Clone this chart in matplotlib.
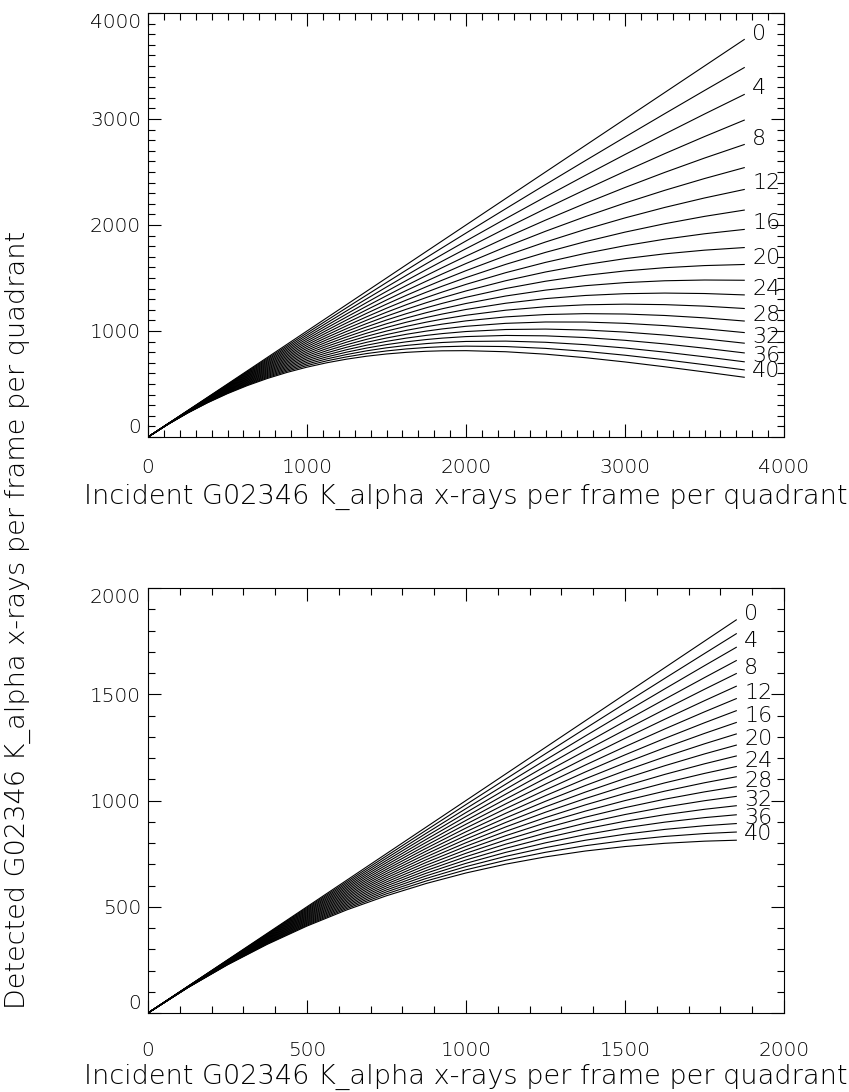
import matplotlib
matplotlib.use("Agg")
import matplotlib.pyplot as plt
from matplotlib.ticker import MultipleLocator

# incident rate grid (x-rays per frame per quadrant); the lower panel stops at 1850
incident = [0, 125, 250, 375, 500, 625, 750, 875, 1000, 1125, 1250, 1375, 1500,
            1625, 1750, 1850, 2000, 2250, 2500, 2750, 3000, 3250, 3500, 3750]
n_bottom = 16  # points up to and including 1850

# curve parameter, one curve per value; every other one gets a label
levels = [0, 2, 4, 6, 8, 10, 12, 14, 16, 18, 20, 22, 24, 26, 28, 30, 32, 34, 36, 38, 40]
labelled = [0, 4, 8, 12, 16, 20, 24, 28, 32, 36, 40]

# detected rate for each level, one row per level, columns follow `incident`
detected = [
    [0, 125.0, 250.0, 375.0, 500.0, 625.0, 750.0, 875.0, 1000.0, 1125.0, 1250.0, 1375.0, 1500.0,
     1625.0, 1750.0, 1850.0, 2000.0, 2250.0, 2500.0, 2750.0, 3000.0, 3250.0, 3500.0, 3750.0],
    [0, 124.7, 248.8, 372.3, 495.2, 617.5, 739.2, 860.3, 980.9, 1100.8, 1220.1, 1338.9, 1457.0,
     1574.6, 1691.6, 1784.8, 1923.8, 2153.7, 2381.4, 2606.6, 2829.6, 3050.3, 3268.7, 3484.9],
    [0, 124.4, 247.6, 369.6, 490.4, 610.1, 728.5, 845.8, 961.9, 1076.9, 1190.7, 1303.3, 1414.8,
     1525.2, 1634.4, 1720.9, 1849.4, 2060.0, 2266.0, 2467.7, 2665.1, 2858.1, 3046.8, 3231.2],
    [0, 124.1, 246.4, 366.9, 485.7, 602.7, 717.9, 831.4, 943.2, 1053.3, 1161.6, 1268.3, 1373.3,
     1476.6, 1578.3, 1658.4, 1776.7, 1968.6, 2154.2, 2333.4, 2506.4, 2673.4, 2834.3, 2989.3],
    [0, 123.8, 245.2, 364.3, 481.0, 595.3, 707.4, 817.2, 924.7, 1030.0, 1133.0, 1233.9, 1332.5,
     1429.0, 1523.4, 1597.3, 1705.8, 1879.8, 2045.8, 2203.7, 2353.9, 2496.4, 2631.5, 2759.2],
    [0, 123.5, 244.0, 361.6, 476.3, 588.1, 697.0, 803.1, 906.4, 1007.0, 1104.8, 1200.0, 1292.5,
     1382.4, 1469.7, 1537.7, 1636.6, 1793.6, 1940.9, 2078.7, 2207.4, 2327.2, 2438.3, 2541.1],
    [0, 123.2, 242.8, 359.0, 471.6, 580.8, 686.6, 789.1, 888.4, 984.3, 1077.1, 1166.7, 1253.2,
     1336.7, 1417.2, 1479.4, 1569.2, 1709.9, 1839.5, 1958.4, 2067.0, 2165.8, 2255.0, 2335.0],
    [0, 122.9, 241.7, 356.3, 467.0, 573.6, 676.4, 775.3, 870.5, 962.0, 1049.8, 1134.0, 1214.7,
     1292.0, 1365.8, 1422.5, 1503.7, 1628.8, 1741.7, 1842.8, 1932.8, 2012.1, 2081.3, 2140.7],
    [0, 122.6, 240.5, 353.7, 462.3, 566.5, 666.3, 761.7, 852.9, 939.9, 1022.9, 1101.9, 1176.9,
     1248.2, 1315.7, 1367.1, 1439.9, 1550.3, 1647.4, 1732.0, 1804.7, 1866.2, 1917.2, 1958.2],
    [0, 122.3, 239.3, 351.1, 457.8, 559.4, 656.2, 748.2, 835.5, 918.2, 996.4, 1070.3, 1139.9,
     1205.4, 1266.8, 1313.1, 1378.0, 1474.4, 1556.7, 1625.8, 1682.6, 1728.0, 1762.6, 1787.2],
    [0, 122.0, 238.1, 348.5, 453.2, 552.4, 646.2, 734.8, 818.3, 896.8, 970.4, 1039.4, 1103.7,
     1163.6, 1219.2, 1260.6, 1317.9, 1401.0, 1469.5, 1524.3, 1566.6, 1597.2, 1617.2, 1627.5],
    [0, 121.7, 237.0, 345.9, 448.7, 545.5, 636.4, 721.6, 801.3, 875.7, 944.9, 1009.0, 1068.2,
     1122.8, 1172.7, 1209.5, 1259.6, 1330.2, 1385.7, 1427.4, 1456.4, 1473.9, 1481.0, 1478.7],
    [0, 121.4, 235.8, 343.3, 444.2, 538.5, 626.6, 708.6, 784.6, 855.0, 919.7, 979.2, 1033.5,
     1082.9, 1127.5, 1159.9, 1203.1, 1262.0, 1305.5, 1335.1, 1352.0, 1357.8, 1353.5, 1340.5],
    [0, 121.1, 234.6, 340.8, 439.7, 531.7, 616.9, 695.7, 768.1, 834.5, 895.1, 950.0, 999.6,
     1044.0, 1083.5, 1111.6, 1148.4, 1196.3, 1228.6, 1247.2, 1253.3, 1248.7, 1234.6, 1212.4],
    [0, 120.8, 233.5, 338.2, 435.3, 524.9, 607.3, 682.9, 751.8, 814.4, 870.8, 921.4, 966.4,
     1006.1, 1040.6, 1064.8, 1095.5, 1133.1, 1155.2, 1163.6, 1160.2, 1146.4, 1124.0, 1094.1],
    [0, 120.5, 232.3, 335.7, 430.8, 518.1, 597.9, 670.3, 735.8, 794.6, 847.0, 893.4, 934.0,
     969.1, 999.0, 1019.4, 1044.4, 1072.3, 1085.0, 1084.4, 1072.4, 1050.8, 1021.2, 985.2],
    [0, 120.2, 231.2, 333.1, 426.4, 511.4, 588.5, 657.9, 720.0, 775.1, 823.7, 866.0, 902.4,
     933.1, 958.6, 975.4, 995.0, 1014.0, 1018.1, 1009.3, 989.8, 961.5, 926.0, 885.1],
    [0, 119.9, 230.0, 330.6, 422.1, 504.8, 579.2, 645.6, 704.4, 756.0, 800.8, 839.2, 871.5,
     898.1, 919.4, 932.8, 947.3, 958.1, 954.3, 938.3, 912.2, 878.2, 838.0, 793.3],
    [0, 119.7, 228.9, 328.1, 417.7, 498.2, 570.0, 633.4, 689.0, 737.2, 778.3, 812.9, 841.3,
     864.0, 881.3, 891.5, 901.4, 904.6, 893.6, 871.2, 839.6, 800.9, 756.9, 709.5],
    [0, 119.4, 227.7, 325.6, 413.4, 491.7, 560.9, 621.4, 673.9, 718.7, 756.3, 787.2, 811.9,
     830.8, 844.4, 851.6, 857.1, 853.3, 836.0, 807.9, 771.6, 729.1, 682.4, 633.1],
    [0, 119.1, 226.6, 323.1, 409.2, 485.2, 551.8, 609.6, 659.0, 700.5, 734.7, 762.2, 783.3,
     798.6, 808.6, 813.1, 814.5, 804.3, 781.3, 748.4, 708.0, 662.6, 613.9, 563.6],
]

xlabel = "Incident G02346 K_alpha x-rays per frame per quadrant"
ylabel = "Detected G02346 K_alpha x-rays per frame per quadrant"

plt.rcParams['font.family'] = ['DejaVu Sans']
plt.rcParams['font.weight'] = 'light'

W, H = 849, 1092
fig = plt.figure(figsize=(W / 100, H / 100), dpi=100)


def px_axes(left, top, right, bottom):
    return fig.add_axes([left / W, 1 - bottom / H, (right - left) / W, (bottom - top) / H])


def draw_panel(ax, npts, lim, major, minor, xpad):
    x = incident[:npts]
    for k, row in zip(levels, detected):
        y = row[:npts]
        ax.plot(x, y, color='black', lw=0.8, solid_joinstyle='round')
        if k in labelled:
            ax.annotate(str(k), (x[-1], y[-1]), xytext=(8, 0),
                        textcoords='offset pixels', ha='left', va='baseline',
                        fontsize=16, fontweight='light')
    ax.set_xlim(0, lim)
    ax.set_ylim(0, lim)
    for axis in (ax.xaxis, ax.yaxis):
        axis.set_major_locator(MultipleLocator(major))
        axis.set_minor_locator(MultipleLocator(minor))
    ax.tick_params(which='both', direction='in', top=True, right=True,
                   width=0.8, color='black', labelsize=14.5)
    ax.tick_params(which='major', length=9.5)
    ax.tick_params(which='minor', length=5)
    ax.tick_params(axis='x', pad=xpad)
    ax.tick_params(axis='y', pad=5)
    for sp in ax.spines.values():
        sp.set_linewidth(0.8)


ax_top = px_axes(148, 13, 784, 437)
draw_panel(ax_top, len(incident), 4000, 1000, 100, 15)
ax_bot = px_axes(148, 588, 784, 1013)
draw_panel(ax_bot, n_bottom, 2000, 500, 100, 20)

fig.text(466 / W, 1 - 497 / H, xlabel, ha='center', va='center', fontsize=19.5)
fig.text(466 / W, 1 - 1077 / H, xlabel, ha='center', va='center', fontsize=19.5)
fig.text(18 / W, 1 - 620 / H, ylabel, ha='center', va='center', rotation=90, fontsize=19.5)

# pull the y tick labels at both ends of the range inside the axis
fig.canvas.draw()
for ax in (ax_top, ax_bot):
    lo, hi = ax.get_ylim()
    for tick in ax.yaxis.get_major_ticks():
        if abs(tick.get_loc() - lo) < 1e-6:
            tick.label1.set_verticalalignment('bottom')
        elif abs(tick.get_loc() - hi) < 1e-6:
            tick.label1.set_verticalalignment('top')

fig.savefig("out.png", dpi=100, facecolor='white')
